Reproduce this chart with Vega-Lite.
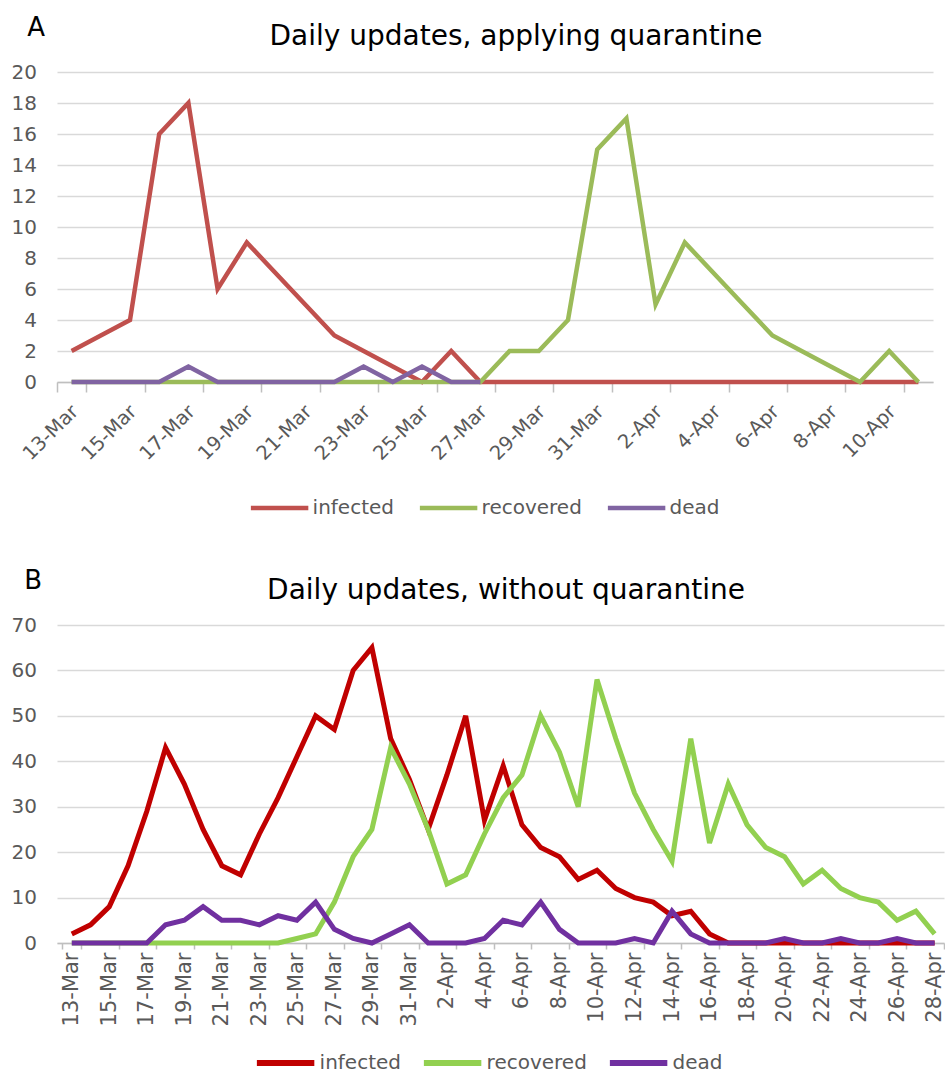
{
  "$schema": "https://vega.github.io/schema/vega-lite/v6.json",
  "background": "white",
  "padding": {"left": 11, "top": 14, "right": 0, "bottom": 0},
  "config": {
    "view": {"stroke": null},
    "font": "DejaVu Sans",
    "axis": {"labelFont": "DejaVu Sans", "labelColor": "#595959", "labelFontSize": 20, "gridColor": "#d9d9d9", "gridWidth": 1.5, "domainColor": "#bfbfbf", "domainWidth": 1.5, "tickColor": "#bfbfbf", "tickWidth": 1.5},
    "legend": {"orient": "none", "direction": "horizontal", "symbolType": "stroke", "symbolSize": 3300, "labelFont": "DejaVu Sans", "labelFontSize": 20, "labelColor": "#595959", "columnPadding": 16, "gridAlign": "each", "labelOffset": 2, "padding": 0},
    "title": {"font": "DejaVu Sans", "fontSize": 28, "fontWeight": "normal", "color": "#000000"}
  },
  "datasets": {
    "a": [
      {"date": "2020-03-13", "infected": 2, "recovered": 0, "dead": 0},
      {"date": "2020-03-14", "infected": 3, "recovered": 0, "dead": 0},
      {"date": "2020-03-15", "infected": 4, "recovered": 0, "dead": 0},
      {"date": "2020-03-16", "infected": 16, "recovered": 0, "dead": 0},
      {"date": "2020-03-17", "infected": 18, "recovered": 0, "dead": 1},
      {"date": "2020-03-18", "infected": 6, "recovered": 0, "dead": 0},
      {"date": "2020-03-19", "infected": 9, "recovered": 0, "dead": 0},
      {"date": "2020-03-20", "infected": 7, "recovered": 0, "dead": 0},
      {"date": "2020-03-21", "infected": 5, "recovered": 0, "dead": 0},
      {"date": "2020-03-22", "infected": 3, "recovered": 0, "dead": 0},
      {"date": "2020-03-23", "infected": 2, "recovered": 0, "dead": 1},
      {"date": "2020-03-24", "infected": 1, "recovered": 0, "dead": 0},
      {"date": "2020-03-25", "infected": 0, "recovered": 0, "dead": 1},
      {"date": "2020-03-26", "infected": 2, "recovered": 0, "dead": 0},
      {"date": "2020-03-27", "infected": 0, "recovered": 0, "dead": 0},
      {"date": "2020-03-28", "infected": 0, "recovered": 2},
      {"date": "2020-03-29", "infected": 0, "recovered": 2},
      {"date": "2020-03-30", "infected": 0, "recovered": 4},
      {"date": "2020-03-31", "infected": 0, "recovered": 15},
      {"date": "2020-04-01", "infected": 0, "recovered": 17},
      {"date": "2020-04-02", "infected": 0, "recovered": 5},
      {"date": "2020-04-03", "infected": 0, "recovered": 9},
      {"date": "2020-04-04", "infected": 0, "recovered": 7},
      {"date": "2020-04-05", "infected": 0, "recovered": 5},
      {"date": "2020-04-06", "infected": 0, "recovered": 3},
      {"date": "2020-04-07", "infected": 0, "recovered": 2},
      {"date": "2020-04-08", "infected": 0, "recovered": 1},
      {"date": "2020-04-09", "infected": 0, "recovered": 0},
      {"date": "2020-04-10", "infected": 0, "recovered": 2},
      {"date": "2020-04-11", "infected": 0, "recovered": 0}
    ],
    "b": [
      {"date": "2020-03-13", "infected": 2, "recovered": 0, "dead": 0},
      {"date": "2020-03-14", "infected": 4, "recovered": 0, "dead": 0},
      {"date": "2020-03-15", "infected": 8, "recovered": 0, "dead": 0},
      {"date": "2020-03-16", "infected": 17, "recovered": 0, "dead": 0},
      {"date": "2020-03-17", "infected": 29, "recovered": 0, "dead": 0},
      {"date": "2020-03-18", "infected": 43, "recovered": 0, "dead": 4},
      {"date": "2020-03-19", "infected": 35, "recovered": 0, "dead": 5},
      {"date": "2020-03-20", "infected": 25, "recovered": 0, "dead": 8},
      {"date": "2020-03-21", "infected": 17, "recovered": 0, "dead": 5},
      {"date": "2020-03-22", "infected": 15, "recovered": 0, "dead": 5},
      {"date": "2020-03-23", "infected": 24, "recovered": 0, "dead": 4},
      {"date": "2020-03-24", "infected": 32, "recovered": 0, "dead": 6},
      {"date": "2020-03-25", "infected": 41, "recovered": 1, "dead": 5},
      {"date": "2020-03-26", "infected": 50, "recovered": 2, "dead": 9},
      {"date": "2020-03-27", "infected": 47, "recovered": 9, "dead": 3},
      {"date": "2020-03-28", "infected": 60, "recovered": 19, "dead": 1},
      {"date": "2020-03-29", "infected": 65, "recovered": 25, "dead": 0},
      {"date": "2020-03-30", "infected": 45, "recovered": 43, "dead": 2},
      {"date": "2020-03-31", "infected": 36, "recovered": 35, "dead": 4},
      {"date": "2020-04-01", "infected": 25, "recovered": 25, "dead": 0},
      {"date": "2020-04-02", "infected": 37, "recovered": 13, "dead": 0},
      {"date": "2020-04-03", "infected": 50, "recovered": 15, "dead": 0},
      {"date": "2020-04-04", "infected": 27, "recovered": 24, "dead": 1},
      {"date": "2020-04-05", "infected": 39, "recovered": 32, "dead": 5},
      {"date": "2020-04-06", "infected": 26, "recovered": 37, "dead": 4},
      {"date": "2020-04-07", "infected": 21, "recovered": 50, "dead": 9},
      {"date": "2020-04-08", "infected": 19, "recovered": 42, "dead": 3},
      {"date": "2020-04-09", "infected": 14, "recovered": 30, "dead": 0},
      {"date": "2020-04-10", "infected": 16, "recovered": 58, "dead": 0},
      {"date": "2020-04-11", "infected": 12, "recovered": 45, "dead": 0},
      {"date": "2020-04-12", "infected": 10, "recovered": 33, "dead": 1},
      {"date": "2020-04-13", "infected": 9, "recovered": 25, "dead": 0},
      {"date": "2020-04-14", "infected": 6, "recovered": 18, "dead": 7},
      {"date": "2020-04-15", "infected": 7, "recovered": 45, "dead": 2},
      {"date": "2020-04-16", "infected": 2, "recovered": 22, "dead": 0},
      {"date": "2020-04-17", "infected": 0, "recovered": 35, "dead": 0},
      {"date": "2020-04-18", "infected": 0, "recovered": 26, "dead": 0},
      {"date": "2020-04-19", "infected": 0, "recovered": 21, "dead": 0},
      {"date": "2020-04-20", "infected": 0, "recovered": 19, "dead": 1},
      {"date": "2020-04-21", "infected": 0, "recovered": 13, "dead": 0},
      {"date": "2020-04-22", "infected": 0, "recovered": 16, "dead": 0},
      {"date": "2020-04-23", "infected": 0, "recovered": 12, "dead": 1},
      {"date": "2020-04-24", "infected": 0, "recovered": 10, "dead": 0},
      {"date": "2020-04-25", "infected": 0, "recovered": 9, "dead": 0},
      {"date": "2020-04-26", "infected": 0, "recovered": 5, "dead": 1},
      {"date": "2020-04-27", "infected": 0, "recovered": 7, "dead": 0},
      {"date": "2020-04-28", "infected": 0, "recovered": 2, "dead": 0}
    ]
  },
  "columns": 1,
  "align": "none",
  "spacing": 49,
  "concat": [
    {
      "width": 876,
      "height": 310,
      "data": {"name": "a"},
      "transform": [{"fold": ["infected", "recovered", "dead"], "as": ["series", "value"]}],
      "title": {"text": "Daily updates, applying quarantine", "frame": "group", "anchor": "middle", "dx": 21, "offset": -59, "baseline": "alphabetic"},
      "mark": {"type": "line", "strokeWidth": 4.5},
      "encoding": {
        "x": {
          "field": "date", "type": "ordinal",
          "scale": {"type": "band", "paddingInner": 0, "paddingOuter": 0},
          "axis": {
            "title": null, "grid": false, "tickBand": "extent", "tickSize": 10,
            "labelAngle": -45, "labelAlign": "right", "labelBaseline": "middle", "labelPadding": 16, "labelOffset": 3, "labelFontSize": 19.5,
            "values": ["2020-03-13", "2020-03-15", "2020-03-17", "2020-03-19", "2020-03-21", "2020-03-23", "2020-03-25", "2020-03-27", "2020-03-29", "2020-03-31", "2020-04-02", "2020-04-04", "2020-04-06", "2020-04-08", "2020-04-10"],
            "labelExpr": "datum.value ? utcFormat(toDate(datum.value), '%-d-%b') : ''"
          }
        },
        "y": {
          "field": "value", "type": "quantitative",
          "scale": {"domain": [0, 20], "nice": false},
          "axis": {
            "values": [0, 2, 4, 6, 8, 10, 12, 14, 16, 18, 20], "domain": false, "ticks": false, "labelPadding": 20.5,
            "title": "A", "titleAngle": 0, "titleX": -21.4, "titleY": -37, "titleAlign": "center", "titleBaseline": "alphabetic",
            "titleFontSize": 26, "titleFontWeight": "normal", "titleColor": "#000000", "titleFont": "DejaVu Sans"
          }
        },
        "color": {
          "field": "series", "type": "nominal",
          "scale": {"domain": ["infected", "recovered", "dead"], "range": ["#C0504D", "#9BBB59", "#8064A2"]},
          "legend": {"title": null, "legendX": 191.6, "legendY": 405, "symbolStrokeWidth": 4.5}
        }
      }
    },
    {
      "width": 887,
      "height": 318,
      "data": {"name": "b"},
      "transform": [{"fold": ["infected", "recovered", "dead"], "as": ["series", "value"]}],
      "title": {"text": "Daily updates, without quarantine", "frame": "group", "anchor": "middle", "dx": 5.5, "offset": -60, "baseline": "alphabetic"},
      "mark": {"type": "line", "strokeWidth": 5},
      "encoding": {
        "x": {
          "field": "date", "type": "ordinal",
          "scale": {"type": "band", "paddingInner": 0, "paddingOuter": 0.144, "align": 1},
          "axis": {
            "title": null, "grid": false, "tickBand": "extent", "tickSize": 6,
            "labelAngle": 270, "labelAlign": "right", "labelBaseline": "middle", "labelPadding": 3, "labelFontSize": 21,
            "values": ["2020-03-13", "2020-03-15", "2020-03-17", "2020-03-19", "2020-03-21", "2020-03-23", "2020-03-25", "2020-03-27", "2020-03-29", "2020-03-31", "2020-04-02", "2020-04-04", "2020-04-06", "2020-04-08", "2020-04-10", "2020-04-12", "2020-04-14", "2020-04-16", "2020-04-18", "2020-04-20", "2020-04-22", "2020-04-24", "2020-04-26", "2020-04-28"],
            "labelExpr": "datum.value ? utcFormat(toDate(datum.value), '%-d-%b') : ''"
          }
        },
        "y": {
          "field": "value", "type": "quantitative",
          "scale": {"domain": [0, 70], "nice": false},
          "axis": {
            "values": [0, 10, 20, 30, 40, 50, 60, 70], "domain": false, "ticks": false, "labelPadding": 20.5,
            "title": "B", "titleAngle": 0, "titleX": -24.4, "titleY": -37, "titleAlign": "center", "titleBaseline": "alphabetic",
            "titleFontSize": 26, "titleFontWeight": "normal", "titleColor": "#000000", "titleFont": "DejaVu Sans"
          }
        },
        "color": {
          "field": "series", "type": "nominal",
          "scale": {"domain": ["infected", "recovered", "dead"], "range": ["#C00000", "#92D050", "#7030A0"]},
          "legend": {"title": null, "legendX": 196.6, "legendY": 406, "symbolStrokeWidth": 6, "columnPadding": 10}
        }
      }
    }
  ],
  "resolve": {"scale": {"color": "independent", "x": "independent", "y": "independent"}, "legend": {"color": "independent"}}
}
